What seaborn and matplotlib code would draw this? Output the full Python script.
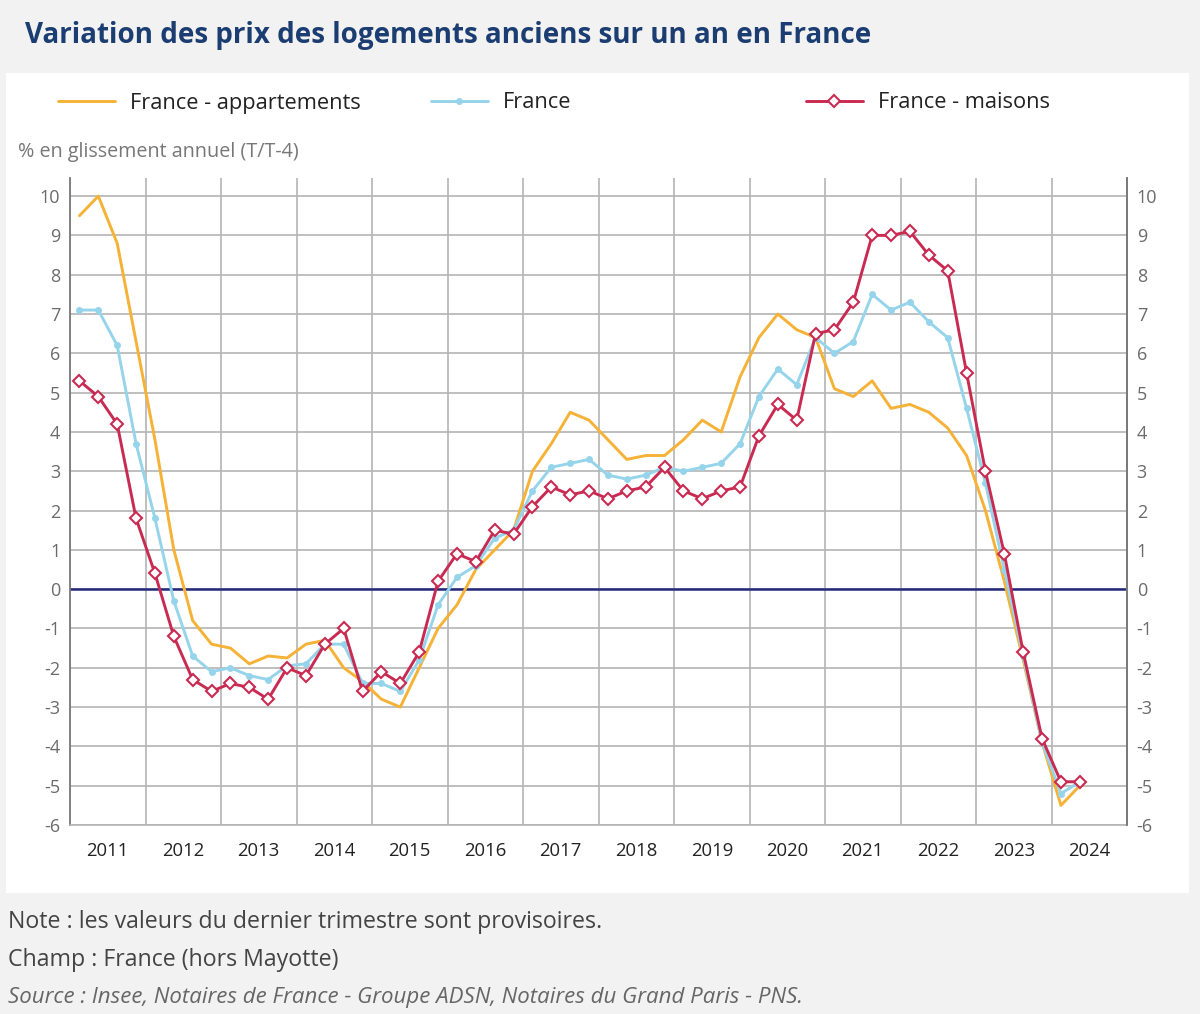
import matplotlib
matplotlib.use("Agg")
import matplotlib.pyplot as plt
from matplotlib.patches import Rectangle
import seaborn as sns
import numpy as np
import pandas as pd

# ---- data (quarterly, 2011 Q1 -> 2024 Q2) ----
years = list(range(2011, 2025))
n_quarters = 54
appartements = [9.5, 10.0, 8.8, 6.3,
                3.8, 1.0, -0.8, -1.4,
                -1.5, -1.9, -1.7, -1.75,
                -1.4, -1.3, -2.0, -2.35,
                -2.8, -3.0, -2.0, -1.0,
                -0.4, 0.5, 1.0, 1.5,
                3.0, 3.7, 4.5, 4.3,
                3.8, 3.3, 3.4, 3.4,
                3.8, 4.3, 4.0, 5.4,
                6.4, 7.0, 6.6, 6.4,
                5.1, 4.9, 5.3, 4.6,
                4.7, 4.5, 4.1, 3.4,
                2.0, 0.2, -1.8, -3.9,
                -5.5, -5.0]
france = [7.1, 7.1, 6.2, 3.7,
          1.8, -0.3, -1.7, -2.1,
          -2.0, -2.2, -2.3, -1.95,
          -1.9, -1.4, -1.4, -2.4,
          -2.4, -2.6, -1.8, -0.4,
          0.3, 0.6, 1.3, 1.5,
          2.5, 3.1, 3.2, 3.3,
          2.9, 2.8, 2.9, 3.1,
          3.0, 3.1, 3.2, 3.7,
          4.9, 5.6, 5.2, 6.4,
          6.0, 6.3, 7.5, 7.1,
          7.3, 6.8, 6.4, 4.6,
          2.7, 0.5, -1.7, -3.9,
          -5.2, -4.9]
maisons = [5.3, 4.9, 4.2, 1.8,
           0.4, -1.2, -2.3, -2.6,
           -2.4, -2.5, -2.8, -2.0,
           -2.2, -1.4, -1.0, -2.6,
           -2.1, -2.4, -1.6, 0.2,
           0.9, 0.7, 1.5, 1.4,
           2.1, 2.6, 2.4, 2.5,
           2.3, 2.5, 2.6, 3.1,
           2.5, 2.3, 2.5, 2.6,
           3.9, 4.7, 4.3, 6.5,
           6.6, 7.3, 9.0, 9.0,
           9.1, 8.5, 8.1, 5.5,
           3.0, 0.9, -1.6, -3.8,
           -4.9, -4.9]
series_names = ["France - appartements", "France", "France - maisons"]
y_ticks = list(range(-6, 11))
year_labels = [str(y) for y in years]

quarters = [(y, q) for y in years for q in range(1, 5)][:n_quarters]
xpos = [y + (q - 0.5) / 4 for y, q in quarters]

df = pd.DataFrame({"x": xpos, "appart": appartements, "france": france, "maisons": maisons})

# ---- style ----
sns.set_theme(style="white")
plt.rcParams["font.family"] = ["Open Sans", "DejaVu Sans"]

C_ORANGE = "#f5b236"
C_BLUE = "#95d4ea"
C_RED = "#c92a52"
C_GRID = "#b4b4b4"
C_SPINE = "#7a7a7a"

W, H = 1200, 1014
fig = plt.figure(figsize=(W / 100, H / 100), dpi=100, facecolor="#f2f2f2")
fig.patches.append(Rectangle((6 / W, 1 - 893 / H), (1189 - 6) / W, (893 - 73) / H,
                             transform=fig.transFigure, facecolor="white",
                             edgecolor="none", zorder=-10))

ax = fig.add_axes([70 / W, 1 - 825 / H, (1127 - 70) / W, (825 - 178) / H])
ax.set_facecolor("white")
ax.set_zorder(1)

sns.lineplot(data=df, x="x", y="appart", ax=ax, color=C_ORANGE, linewidth=2.1,
             label=series_names[0], zorder=3)
sns.lineplot(data=df, x="x", y="france", ax=ax, color=C_BLUE, linewidth=2.1,
             marker="o", markersize=5, markeredgewidth=0, markerfacecolor=C_BLUE,
             label=series_names[1], zorder=4)
sns.lineplot(data=df, x="x", y="maisons", ax=ax, color=C_RED, linewidth=2.1,
             marker="D", markersize=6, markeredgewidth=1.5,
             markerfacecolor="white", markeredgecolor=C_RED,
             label=series_names[2], zorder=5)
handles, labels = ax.get_legend_handles_labels()
if ax.get_legend() is not None:
    ax.get_legend().remove()

ax.axhline(0, color="#232a7c", linewidth=1.8, zorder=2)

ymin, ymax = -6, 10.46
ax.set_ylim(ymin, ymax)
ax.set_xlim(years[0], years[-1] + 1)
ax.set_yticks(y_ticks)
ax.set_yticklabels([str(t) for t in y_ticks])
ax.grid(axis="y", color=C_GRID, linewidth=1.2, zorder=1)

# x: year boundaries as long gray ticks + gridlines, labels centered
ax.set_xticks(list(range(years[0], years[-1] + 2)))
ax.set_xticklabels([])
ax.set_xticks([y + 0.5 for y in years], minor=True)
ax.set_xticklabels(year_labels, minor=True)
ax.grid(axis="x", which="major", color=C_GRID, linewidth=1.2, zorder=1)
ax.tick_params(axis="x", which="major", length=27, width=1.2, color=C_GRID, direction="out")
ax.tick_params(axis="x", which="minor", length=0, pad=12, labelsize=13.3, labelcolor="#222222")
ax.tick_params(axis="y", length=0, pad=7, labelsize=13, labelcolor="#6b6b6b")
ax.set_xlabel("")
ax.set_ylabel("")

ax.spines["top"].set_visible(False)
ax.spines["bottom"].set_color(C_GRID)
ax.spines["bottom"].set_linewidth(1.2)
ax.spines["left"].set_color(C_SPINE)
ax.spines["left"].set_linewidth(1.3)
ax.spines["right"].set_color(C_SPINE)
ax.spines["right"].set_linewidth(1.3)

ax2 = ax.twinx()
ax2.set_ylim(ymin, ymax)
ax2.set_yticks(y_ticks)
ax2.set_yticklabels([str(t) for t in y_ticks])
ax2.tick_params(axis="y", length=0, pad=7, labelsize=13, labelcolor="#6b6b6b")
ax2.grid(False)
ax2.patch.set_visible(False)
for side in ["top", "left", "bottom"]:
    ax2.spines[side].set_visible(False)
ax2.spines["right"].set_color(C_SPINE)
ax2.spines["right"].set_linewidth(1.3)

# legends (three separate entries, evenly spaced)
leg_x = [58 / W, 431 / W, 806 / W]
for h, l, lx in zip(handles, labels, leg_x):
    lg = fig.legend(handles=[h], labels=[l], loc="center left",
                    bbox_to_anchor=(lx, 1 - 103 / H), frameon=False,
                    fontsize=15.7, handlelength=2.6, handletextpad=0.7,
                    borderpad=0, borderaxespad=0)
    for t in lg.get_texts():
        t.set_color("#222222")

# texts
fig.text(25 / W, 1 - 35 / H, "Variation des prix des logements anciens sur un an en France",
         fontsize=20, fontweight="bold", color="#1b3d72", va="center", ha="left")
fig.text(18 / W, 1 - 152 / H, "% en glissement annuel (T/T-4)",
         fontsize=14.2, color="#777777", va="center", ha="left")
fig.text(8 / W, 1 - 922 / H, "Note : les valeurs du dernier trimestre sont provisoires.",
         fontsize=16.7, color="#444444", va="center", ha="left")
fig.text(8 / W, 1 - 960 / H, "Champ : France (hors Mayotte)",
         fontsize=16.7, color="#444444", va="center", ha="left")
fig.text(8 / W, 1 - 998 / H,
         "Source : Insee, Notaires de France - Groupe ADSN, Notaires du Grand Paris - PNS.",
         fontsize=16.0, color="#666666", style="italic", va="center", ha="left")

fig.savefig("out.png", dpi=100, facecolor=fig.get_facecolor())
